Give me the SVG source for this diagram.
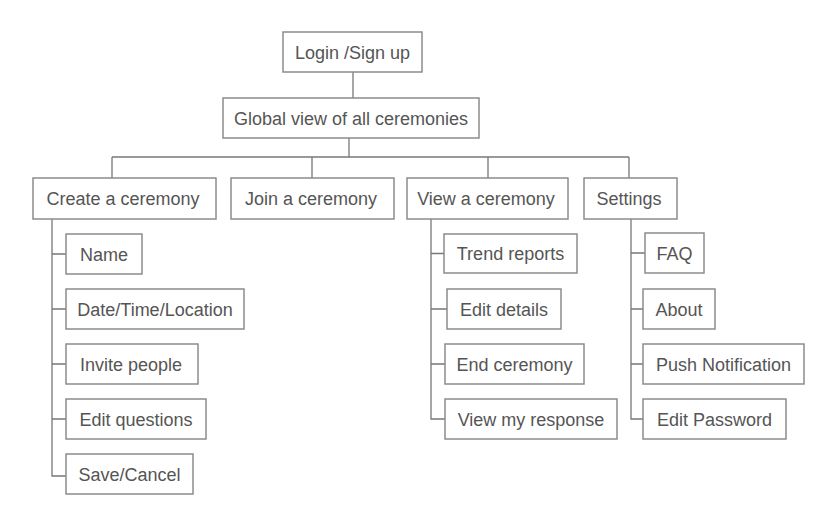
<svg xmlns="http://www.w3.org/2000/svg" width="838" height="525" viewBox="0 0 838 525">
<style>
.box{fill:#fff;stroke:#8c8c8c;stroke-width:1.5}
.lbl{font-family:"Liberation Sans",Arial,sans-serif;font-size:18px;fill:#555;text-anchor:middle}
.ln{fill:none;stroke:#777;stroke-width:1.3}
</style>
<rect width="838" height="525" fill="#fff"/>
<g id="connectors">
<path class="ln" d="M353 72V98"/>
<path class="ln" d="M349 138V157"/>
<path class="ln" d="M112 157H629"/>
<path class="ln" d="M112 157V178M312 157V178M488 157V178M629 157V178"/>
<path class="ln" d="M52 219V476H66M52 254H66M52 309H66M52 364H66M52 419H66"/>
<path class="ln" d="M431 219V419H445M431 253.5H444M431 309H447M431 364H445"/>
<path class="ln" d="M631 219V419H643M631 253H645M631 309H643M631 364H643"/>
</g>
<g id="login"><rect class="box" x="283" y="32" width="139" height="40"/><text class="lbl" x="352.5" y="58.5">Login /Sign up</text></g>
<g id="global"><rect class="box" x="223" y="98" width="256" height="40"/><text class="lbl" x="351" y="124.5">Global view of all ceremonies</text></g>
<g id="create"><rect class="box" x="33" y="178" width="183" height="41"/><text class="lbl" x="123" y="205">Create a ceremony</text></g>
<g id="join"><rect class="box" x="231" y="178" width="163" height="41"/><text class="lbl" x="311" y="205">Join a ceremony</text></g>
<g id="view"><rect class="box" x="407" y="178" width="161" height="41"/><text class="lbl" x="486" y="205">View a ceremony</text></g>
<g id="settings"><rect class="box" x="584" y="178" width="93" height="41"/><text class="lbl" x="629" y="205">Settings</text></g>
<g id="name"><rect class="box" x="66" y="234" width="76" height="40"/><text class="lbl" x="104" y="260.5">Name</text></g>
<g id="datetime"><rect class="box" x="66" y="289" width="178" height="40"/><text class="lbl" x="155" y="315.5">Date/Time/Location</text></g>
<g id="invite"><rect class="box" x="66" y="344" width="132" height="40"/><text class="lbl" x="131" y="370.5">Invite people</text></g>
<g id="editq"><rect class="box" x="66" y="399" width="140" height="40"/><text class="lbl" x="136" y="425.5">Edit questions</text></g>
<g id="save"><rect class="box" x="66" y="454" width="127" height="40"/><text class="lbl" x="129.5" y="480.5">Save/Cancel</text></g>
<g id="trend"><rect class="box" x="444" y="234" width="133" height="39"/><text class="lbl" x="510.5" y="260">Trend reports</text></g>
<g id="editd"><rect class="box" x="447" y="289" width="114" height="40"/><text class="lbl" x="504" y="315.5">Edit details</text></g>
<g id="end"><rect class="box" x="445" y="344" width="139" height="40"/><text class="lbl" x="514.5" y="370.5">End ceremony</text></g>
<g id="myresp"><rect class="box" x="445" y="399" width="172" height="40"/><text class="lbl" x="531" y="425.5">View my response</text></g>
<g id="faq"><rect class="box" x="645" y="233" width="59" height="40"/><text class="lbl" x="674.5" y="259.5">FAQ</text></g>
<g id="about"><rect class="box" x="643" y="289" width="72" height="40"/><text class="lbl" x="679" y="315.5">About</text></g>
<g id="push"><rect class="box" x="643" y="344" width="161" height="40"/><text class="lbl" x="723.5" y="370.5">Push Notification</text></g>
<g id="editpw"><rect class="box" x="643" y="399" width="143" height="40"/><text class="lbl" x="714.5" y="425.5">Edit Password</text></g>
</svg>
